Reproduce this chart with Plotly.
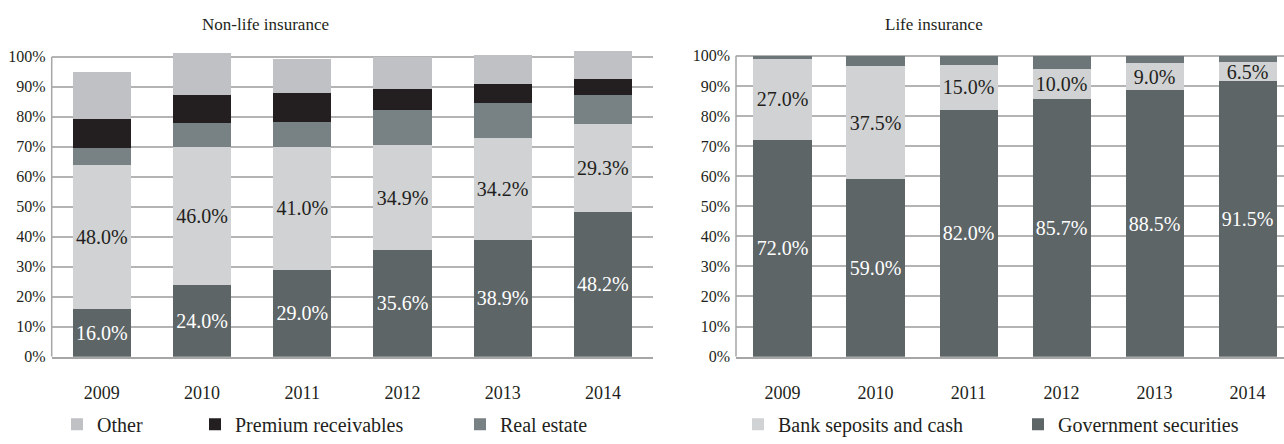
import plotly.graph_objects as go

years = ["2009", "2010", "2011", "2012", "2013", "2014"]

# Non-life insurance: structure of assets, % of total
nl_gov_securities = [16.0, 24.0, 29.0, 35.6, 38.9, 48.2]
nl_bank_deposits = [48.0, 46.0, 41.0, 34.9, 34.2, 29.3]
nl_real_estate = [5.5, 8.1, 8.4, 11.7, 11.4, 9.7]
nl_premium_receivables = [9.8, 9.2, 9.5, 7.2, 6.4, 5.5]
nl_other = [15.6, 13.9, 11.4, 10.6, 9.8, 9.2]

# Life insurance: structure of assets, % of total
li_gov_securities = [72.0, 59.0, 82.0, 85.7, 88.5, 91.5]
li_bank_deposits = [27.0, 37.5, 15.0, 10.0, 9.0, 6.5]
li_other = [1.0, 3.5, 3.0, 4.3, 2.5, 2.0]

tick_vals = [0, 10, 20, 30, 40, 50, 60, 70, 80, 90, 100]
tick_text = [f"{v}%" for v in tick_vals]

C_GOV = "#5d6567"
C_BANK = "#d1d2d4"
C_REAL = "#788183"
C_PREM = "#231f20"
C_OTHER = "#c0c1c5"
C_LI_OTHER = "#6c7577"

FONT = "Liberation Serif"
TXT = "#231f20"

W, H = 1284, 444


def pct(vals):
    return [f"{v:.1f}%" for v in vals]


def bar(name, y, color, xa, ya, width, labels=None, label_color=TXT,
        legend="legend", showlegend=True):
    kw = {}
    if labels is not None:
        kw = dict(text=labels, textposition="inside", insidetextanchor="middle",
                  textangle=0, constraintext="none",
                  textfont=dict(family=FONT, size=20, color=label_color))
    return go.Bar(name=name, x=years, y=y, marker=dict(color=color, line=dict(width=0)),
                  width=width, xaxis=xa, yaxis=ya, legend=legend,
                  showlegend=showlegend, hoverinfo="skip", **kw)


fig = go.Figure()

# Non-life insurance chart
fig.add_trace(bar("Government securities", nl_gov_securities, C_GOV, "x", "y", 0.58,
                  pct(nl_gov_securities), "#ffffff", showlegend=False))
fig.add_trace(bar("Bank seposits and cash", nl_bank_deposits, C_BANK, "x", "y", 0.58,
                  pct(nl_bank_deposits), showlegend=False))
fig.add_trace(bar("Real estate", nl_real_estate, C_REAL, "x", "y", 0.58, legend="legend3"))
fig.add_trace(bar("Premium receivables", nl_premium_receivables, C_PREM, "x", "y", 0.58,
                  legend="legend2"))
fig.add_trace(bar("Other", nl_other, C_OTHER, "x", "y", 0.58, legend="legend"))

# Life insurance chart
fig.add_trace(bar("Government securities", li_gov_securities, C_GOV, "x2", "y2", 0.624,
                  pct(li_gov_securities), "#ffffff", legend="legend5"))
fig.add_trace(bar("Bank seposits and cash", li_bank_deposits, C_BANK, "x2", "y2", 0.624,
                  pct(li_bank_deposits), legend="legend4"))
fig.add_trace(bar("Other", li_other, C_LI_OTHER, "x2", "y2", 0.624, showlegend=False))

y_dom = [1 - 365.7 / H, 1 - 48 / H]

xaxis_common = dict(type="category", showline=True, linecolor="#a6a6a6", linewidth=1.5,
                    showgrid=False, ticks="", tickfont=dict(family=FONT, size=18, color=TXT),
                    ticklabelstandoff=19, fixedrange=True)
yaxis_common = dict(tickvals=tick_vals, ticktext=tick_text, showgrid=True,
                    gridcolor="#b4b4b4", gridwidth=1.5, zeroline=False, showline=False,
                    ticks="", tickfont=dict(family=FONT, size=16, color=TXT),
                    ticklabelstandoff=5, fixedrange=True)

legend_common = dict(orientation="h", xanchor="left", yanchor="middle",
                     bgcolor="rgba(0,0,0,0)", borderwidth=0,
                     font=dict(family=FONT, size=20, color=TXT))
leg_y = 1 - 435 / H


def leg(text_x):
    return dict(legend_common, x=(text_x - 40) / W, y=leg_y)


fig.update_layout(
    width=W, height=H, autosize=False,
    margin=dict(l=0, r=0, t=0, b=0),
    paper_bgcolor="white", plot_bgcolor="white",
    barmode="stack",
    uniformtext=dict(minsize=20, mode="show"),
    xaxis=dict(xaxis_common, domain=[51.7 / W, 653 / W], range=[-0.5, 5.5]),
    yaxis=dict(yaxis_common, domain=y_dom, range=[0, 103.35], anchor="x"),
    xaxis2=dict(xaxis_common, domain=[736 / W, 1.0], range=[-0.5, 5.392], anchor="y2"),
    yaxis2=dict(yaxis_common, domain=y_dom, range=[0, 103.0], anchor="x2"),
    legend=leg(97),
    legend2=leg(235),
    legend3=leg(500),
    legend4=leg(778),
    legend5=leg(1058),
    annotations=[
        dict(text="Non-life insurance", x=265 / W, y=1 - 25 / H, xref="paper", yref="paper",
             showarrow=False, xanchor="center", yanchor="middle",
             font=dict(family=FONT, size=17, color=TXT)),
        dict(text="Life insurance", x=934 / W, y=1 - 25 / H, xref="paper", yref="paper",
             showarrow=False, xanchor="center", yanchor="middle",
             font=dict(family=FONT, size=17, color=TXT)),
    ],
    shapes=[
        dict(type="line", xref="x domain", yref="y", x0=0, x1=0, y0=0, y1=100,
             line=dict(color="#a6a6a6", width=1.5), layer="above"),
        dict(type="line", xref="x2 domain", yref="y2", x0=0, x1=0, y0=0, y1=100,
             line=dict(color="#a6a6a6", width=1.5), layer="above"),
    ],
)

fig.write_html("out.html")
